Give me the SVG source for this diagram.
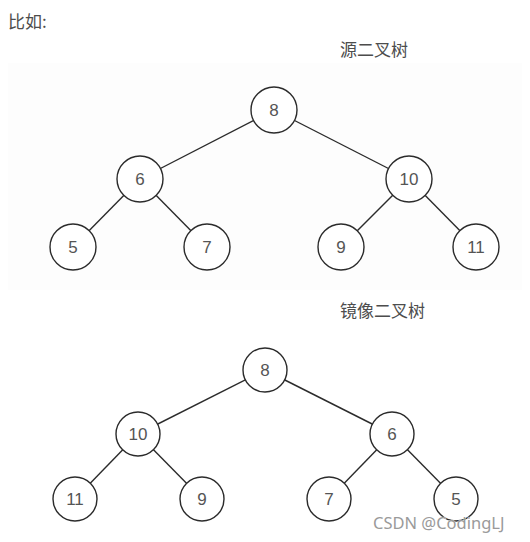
<svg xmlns="http://www.w3.org/2000/svg" width="530" height="542" viewBox="0 0 530 542">
<style>
.t{font-family:"Noto Sans CJK SC","Liberation Sans",sans-serif;font-size:17px;fill:#4d4d4d}
.n circle{fill:#fff;stroke:#2b2b2b;stroke-width:1.4}
.n text{font-family:"Liberation Sans",Arial,sans-serif;font-size:17px;fill:#555;text-anchor:middle;dominant-baseline:central}
.e line{stroke:#2b2b2b;stroke-width:1.4}
.wm{font-family:"Noto Sans","Liberation Sans",sans-serif;font-size:16.5px;fill:#9a9a9a;stroke:#fff;stroke-width:0.6;paint-order:stroke}
</style>
<rect width="530" height="542" fill="#fff"/>
<rect x="8" y="63" width="514" height="227" fill="#fdfdfd"/>
<text class="t" x="8" y="28">比如:</text>
<text class="t" x="340" y="56">源二叉树</text>
<text class="t" x="340" y="317">镜像二叉树</text>
<g id="connectors" class="e">
<line x1="274" y1="110" x2="140" y2="179"/>
<line x1="274" y1="110" x2="409" y2="179"/>
<line x1="140" y1="179" x2="73" y2="247"/>
<line x1="140" y1="179" x2="207" y2="247"/>
<line x1="409" y1="179" x2="341" y2="247"/>
<line x1="409" y1="179" x2="476" y2="247"/>
<line x1="265" y1="370" x2="138" y2="434"/>
<line x1="265" y1="370" x2="392" y2="434"/>
<line x1="138" y1="434" x2="75" y2="499"/>
<line x1="138" y1="434" x2="202" y2="499"/>
<line x1="392" y1="434" x2="329" y2="499"/>
<line x1="392" y1="434" x2="456" y2="499"/>
</g>
<g id="s8" class="n"><circle cx="274" cy="110" r="23"/><text x="274" y="110">8</text></g>
<g id="s6" class="n"><circle cx="140" cy="179" r="23"/><text x="140" y="179">6</text></g>
<g id="s10" class="n"><circle cx="409" cy="179" r="23"/><text x="409" y="179">10</text></g>
<g id="s5" class="n"><circle cx="73" cy="247" r="23"/><text x="73" y="247">5</text></g>
<g id="s7" class="n"><circle cx="207" cy="247" r="23"/><text x="207" y="247">7</text></g>
<g id="s9" class="n"><circle cx="341" cy="247" r="23"/><text x="341" y="247">9</text></g>
<g id="s11" class="n"><circle cx="476" cy="247" r="23"/><text x="476" y="247">11</text></g>
<g id="m8" class="n"><circle cx="265" cy="370" r="22"/><text x="265" y="370">8</text></g>
<g id="m10" class="n"><circle cx="138" cy="434" r="22"/><text x="138" y="434">10</text></g>
<g id="m6" class="n"><circle cx="392" cy="434" r="22"/><text x="392" y="434">6</text></g>
<g id="m11" class="n"><circle cx="75" cy="499" r="22"/><text x="75" y="499">11</text></g>
<g id="m9" class="n"><circle cx="202" cy="499" r="22"/><text x="202" y="499">9</text></g>
<g id="m7" class="n"><circle cx="329" cy="499" r="22"/><text x="329" y="499">7</text></g>
<g id="m5" class="n"><circle cx="456" cy="499" r="22"/><text x="456" y="499">5</text></g>
<text class="wm" x="373" y="529">CSDN @CodingLJ</text>
</svg>
